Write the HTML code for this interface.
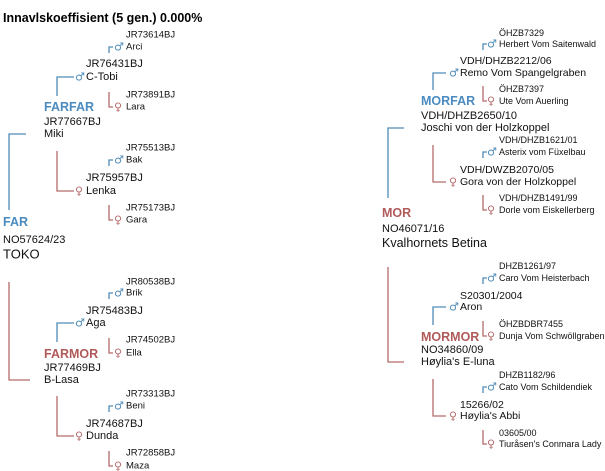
<!DOCTYPE html>
<html><head><meta charset="utf-8">
<style>
html,body{margin:0;padding:0;background:#fff;}
svg{display:block;font-family:"Liberation Sans",Arial,sans-serif;}
</style></head>
<body>
<svg id="c" width="605" height="471" viewBox="0 0 605 471">
<text x="3" y="22" font-size="12.5" font-weight="bold" fill="#000">Innavlskoeffisient (5 gen.) 0.000%</text>
</svg>
<script>
var B="#4f8cb8", R="#b46b6b", BT="#4b8bbf", RT="#b05a5a";
var svg=document.getElementById('c');
var NS="http://www.w3.org/2000/svg";
// text entries: x, y(center), text, size, bold, color
var texts=[
[126,35,"JR73614BJ",9.5],[126,47,"Arci",9.5],
[86,64,"JR76431BJ",11],[86,77,"C-Tobi",11],
[126,95,"JR73891BJ",9.5],[126,107,"Lara",9.5],
[44,107,"FARFAR",12.5,1,BT],[44,122,"JR77667BJ",11],[44,134,"Miki",11],
[126,148,"JR75513BJ",9.5],[126,160,"Bak",9.5],
[86,178,"JR75957BJ",11],[86,191,"Lenka",11],
[126,208,"JR75173BJ",9.5],[126,220,"Gara",9.5],
[3,222,"FAR",12.5,1,BT],[3,240,"NO57624/23",11],[3,254,"TOKO",13],
[126,282,"JR80538BJ",9.5],[126,293,"Brik",9.5],
[86,311,"JR75483BJ",11],[86,323,"Aga",11],
[126,340,"JR74502BJ",9.5],[126,353,"Ella",9.5],
[44,354,"FARMOR",12.5,1,RT],[44,368,"JR77469BJ",11],[44,380,"B-Lasa",11],
[126,394,"JR73313BJ",9.5],[126,406,"Beni",9.5],
[86,424,"JR74687BJ",11],[86,436,"Dunda",11],
[126,453,"JR72858BJ",9.5],[126,466,"Maza",9.5],
[499,33,"ÖHZB7329",9],[499,44,"Herbert Vom Saitenwald",9],
[460,61,"VDH/DHZB2212/06",10.5],[460,73,"Remo Vom Spangelgraben",10.5],
[499,89,"ÖHZB7397",9],[499,101,"Ute Vom Auerling",9],
[421,101,"MORFAR",12.5,1,BT],[421,116,"VDH/DHZB2650/10",11],[421,128,"Joschi von der Holzkoppel",11],
[499,140,"VDH/DHZB1621/01",9],[499,152,"Asterix vom Füxelbau",9],
[460,170,"VDH/DWZB2070/05",10.5],[460,182,"Gora von der Holzkoppel",10.5],
[499,198,"VDH/DHZB1491/99",9],[499,210,"Dorle vom Eiskellerberg",9],
[382,213,"MOR",12.5,1,RT],[382,229,"NO46071/16",11],[382,243,"Kvalhornets Betina",12.5],
[499,266,"DHZB1261/97",9],[499,278,"Caro Vom Heisterbach",9],
[460,296,"S20301/2004",10.5],[460,307,"Aron",10.5],
[499,324,"ÖHZBDBR7455",9],[499,336,"Dunja Vom Schwöllgraben",9],
[421,337,"MORMOR",12.5,1,RT],[421,350,"NO34860/09",11],[421,362,"Høylia's E-luna",11],
[499,375,"DHZB1182/96",9],[499,387,"Cato Vom Schildendiek",9],
[460,405,"15266/02",10.5],[460,416,"Høylia's Abbi",10.5],
[499,433,"03605/00",9],[499,444,"Tiuråsen's Conmara Lady",9]
];
// brackets: type(m/f), x, yName, yOther, xEnd, iconX
var brackets=[
["m",109,47,53,113,116],["f",109,92,107,113,116],
["m",57,77,96,74,77],["f",57,151,191,74,77],
["m",109,160,166,113,116],["f",109,205,220,113,116],
["m",9,134,210,26,0],["f",9,282,380,30,0],
["m",109,293,299,113,116],["f",109,338,353,113,116],
["m",57,323,342,74,77],["f",57,396,436,74,77],
["m",109,406,412,113,116],["f",109,451,466,113,116],
["m",483,44,50,487,489],["f",483,86,101,487,489],
["m",433,73,90,446,451],["f",433,145,182,446,451],
["m",483,152,158,487,489],["f",483,195,210,487,489],
["m",388,128,198,404,0],["f",388,267,362,404,0],
["m",483,278,284,487,489],["f",483,321,336,487,489],
["m",433,307,325,446,451],["f",433,379,416,446,451],
["m",483,387,393,487,489],["f",483,430,444,487,489]
];
texts.forEach(function(t){
  var e=document.createElementNS(NS,'text');
  e.setAttribute('x',t[0]);e.setAttribute('y',t[1]);
  e.setAttribute('dominant-baseline','central');
  e.setAttribute('font-size',t[3]);
  if(t[4])e.setAttribute('font-weight','bold');
  e.setAttribute('fill',t[5]||'#111');
  e.textContent=t[2];
  
  
  svg.appendChild(e);
});
brackets.forEach(function(b){
  var col=b[0]=="m"?B:R;
  var p=document.createElementNS(NS,'path');
  var d;
  if(b[0]=="m") d="M"+b[1]+" "+b[3]+" V"+b[2]+" H"+b[4];
  else d="M"+b[1]+" "+b[2]+" V"+b[3]+" H"+b[4];
  p.setAttribute('d',d);p.setAttribute('stroke',col);p.setAttribute('stroke-width','1.3');p.setAttribute('fill','none');
  
  
  svg.appendChild(p);
  if(b[5]){
    var ic=document.createElementNS(NS,'text');
    ic.setAttribute('x',b[5]-2);ic.setAttribute('y',b[0]=="m"?b[2]:b[3]);
    ic.setAttribute('dominant-baseline','central');
    ic.setAttribute('font-size','11');
    ic.setAttribute('font-family','"DejaVu Sans",sans-serif');
    ic.setAttribute('fill',col);
    ic.textContent=b[0]=="m"?"♂":"♀";
    
    
    svg.appendChild(ic);
  }
});
</script>
</body></html>
